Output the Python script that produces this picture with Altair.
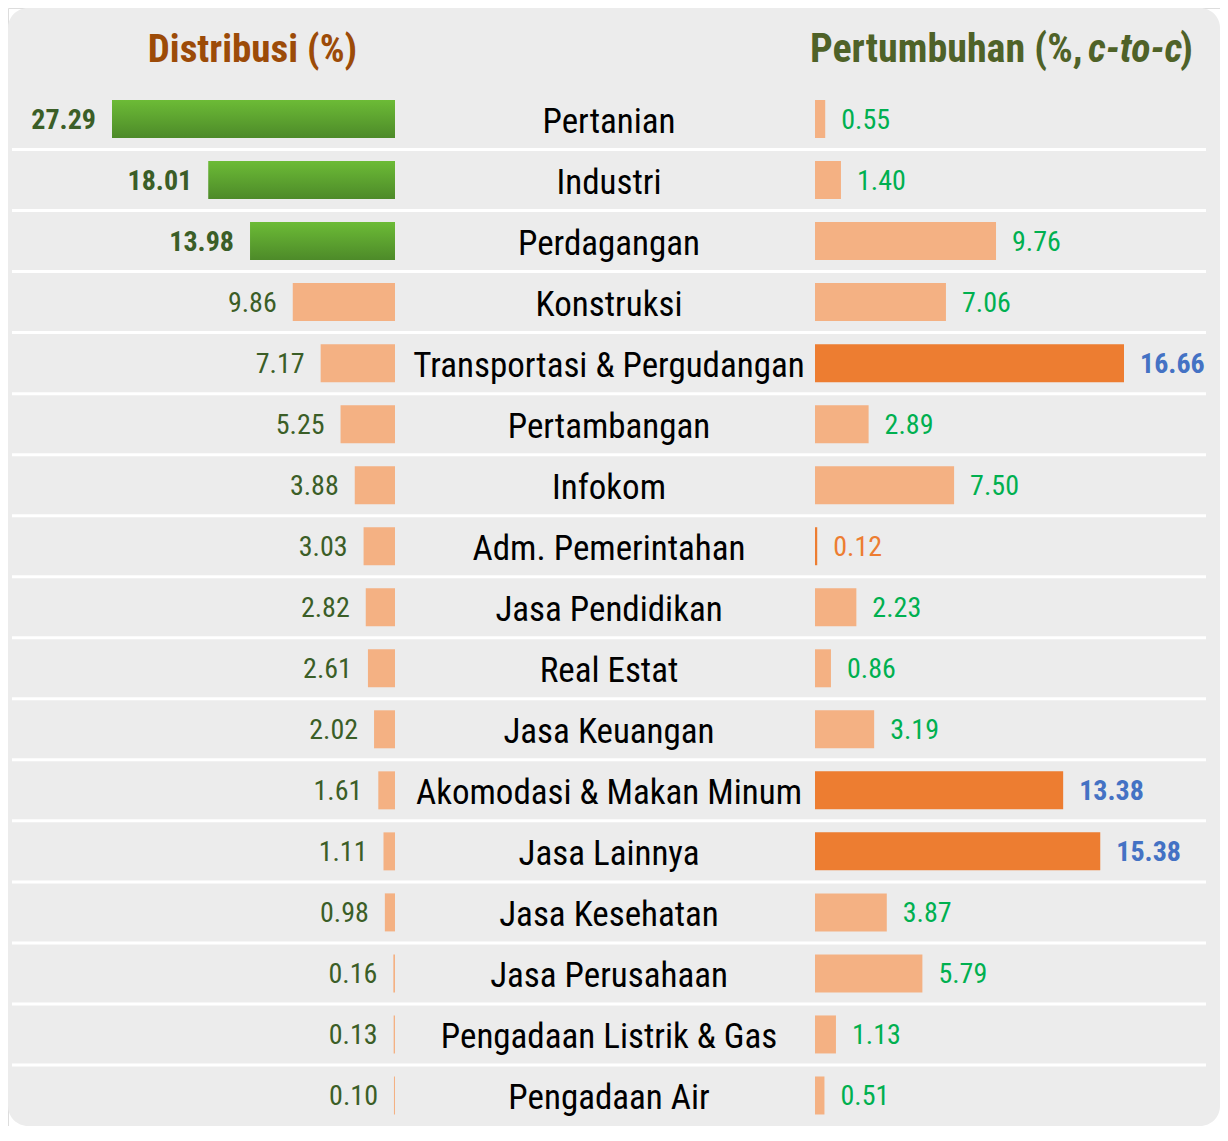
import altair as alt
import pandas as pd

sectors = ["Pertanian", "Industri", "Perdagangan", "Konstruksi",
           "Transportasi & Pergudangan", "Pertambangan", "Infokom",
           "Adm. Pemerintahan", "Jasa Pendidikan", "Real Estat",
           "Jasa Keuangan", "Akomodasi & Makan Minum", "Jasa Lainnya",
           "Jasa Kesehatan", "Jasa Perusahaan", "Pengadaan Listrik & Gas",
           "Pengadaan Air"]
distribusi = [27.29, 18.01, 13.98, 9.86, 7.17, 5.25, 3.88, 3.03, 2.82,
              2.61, 2.02, 1.61, 1.11, 0.98, 0.16, 0.13, 0.10]
pertumbuhan = [0.55, 1.40, 9.76, 7.06, 16.66, 2.89, 7.50, 0.12, 2.23,
               0.86, 3.19, 13.38, 15.38, 3.87, 5.79, 1.13, 0.51]

df = pd.DataFrame({"sektor": sectors, "dist": distribusi, "grow": pertumbuhan})
top_dist = set(df.nlargest(3, "dist")["sektor"])
top_grow = set(df.nlargest(3, "grow")["sektor"])
low_grow = set(df.nsmallest(1, "grow")["sektor"])
df["dist_top"] = df["sektor"].isin(top_dist)
df["grow_top"] = df["sektor"].isin(top_grow)
df["grow_low"] = df["sektor"].isin(low_grow)
df["last"] = df["sektor"] == sectors[-1]

W, H = 1212, 1118
FONT = "'Roboto Condensed', 'DejaVu Sans Condensed', 'Liberation Sans', sans-serif"
BG = "#ececec"
LIGHT = "#f4b183"
DARK = "#ed7d31"

yscale = alt.Scale(domain=sectors, range=[80.5, 1118], paddingInner=0, paddingOuter=0)
Y = alt.Y("sektor:N", scale=yscale, axis=None)
lscale = alt.Scale(domain=[0, max(distribusi)], range=[387, 104])
rscale = alt.Scale(domain=[0, max(pertumbuhan)], range=[807, 1116])

base = alt.Chart(df)

bg = alt.Chart(alt.Data(values=[{}])).mark_rect(color=BG, cornerRadius=20).encode(
    x=alt.value(0), x2=alt.value(W), y=alt.value(0), y2=alt.value(H))

seps = base.transform_filter("!datum.last").mark_rule(color="white", strokeWidth=3).encode(
    y=alt.Y("sektor:N", scale=yscale, axis=None, bandPosition=1),
    x=alt.value(4), x2=alt.value(1198))

green = alt.Gradient(gradient="linear",
                     stops=[alt.GradientStop(color="#6cbb36", offset=0),
                            alt.GradientStop(color="#4d8a29", offset=1)],
                     x1=0, x2=0, y1=0, y2=1)

lx = alt.X("dist:Q", scale=lscale, axis=None)
lbars_green = base.transform_filter("datum.dist_top").mark_bar(color=green, size=38).encode(
    x=lx, x2=alt.value(387), y=Y)
lbars_light = base.transform_filter("!datum.dist_top").mark_bar(color=LIGHT, size=38).encode(
    x=lx, x2=alt.value(387), y=Y)
ltext_bold = base.transform_filter("datum.dist_top").mark_text(
    align="right", baseline="middle", dx=-16, dy=2, font=FONT, fontSize=28,
    fontWeight="bold", color="#3b5e27").encode(x=lx, y=Y, text=alt.Text("dist:Q", format=".2f"))
ltext = base.transform_filter("!datum.dist_top").mark_text(
    align="right", baseline="middle", dx=-16, dy=2, font=FONT, fontSize=28,
    color="#3b5e27").encode(x=lx, y=Y, text=alt.Text("dist:Q", format=".2f"))

mid = base.mark_text(align="center", baseline="middle", font=FONT, fontSize=35,
                     color="#000000", dy=3).encode(x=alt.value(601), y=Y, text="sektor:N")

rx = alt.X("grow:Q", scale=rscale, axis=None)
rbars = base.mark_bar(size=38).encode(
    x=rx, x2=alt.value(807), y=Y,
    color=alt.condition("datum.grow_top || datum.grow_low", alt.value(DARK), alt.value(LIGHT)))
rtext_top = base.transform_filter("datum.grow_top").mark_text(
    align="left", baseline="middle", dx=16, dy=2, font=FONT, fontSize=28,
    fontWeight="bold", color="#4472c4").encode(x=rx, y=Y, text=alt.Text("grow:Q", format=".2f"))
rtext_low = base.transform_filter("datum.grow_low").mark_text(
    align="left", baseline="middle", dx=16, dy=2, font=FONT, fontSize=28,
    color=DARK).encode(x=rx, y=Y, text=alt.Text("grow:Q", format=".2f"))
rtext = base.transform_filter("!datum.grow_top && !datum.grow_low").mark_text(
    align="left", baseline="middle", dx=16, dy=2, font=FONT, fontSize=28,
    color="#00b050").encode(x=rx, y=Y, text=alt.Text("grow:Q", format=".2f"))

title_data = alt.Data(values=[{}])
t1 = alt.Chart(title_data).mark_text(text="Distribusi (%)", align="center", baseline="alphabetic",
    font=FONT, fontSize=39, fontWeight="bold", color="#9c4b08").encode(
    x=alt.value(244.5), y=alt.value(54))
t2 = alt.Chart(title_data).mark_text(text="Pertumbuhan (%,", align="left", baseline="alphabetic",
    font=FONT, fontSize=40, fontWeight="bold", color="#4f6228").encode(
    x=alt.value(802), y=alt.value(54))
t3 = alt.Chart(title_data).mark_text(text="c-to-c", align="left", baseline="alphabetic",
    font=FONT, fontSize=40, fontWeight="bold", fontStyle="italic", color="#4f6228").encode(
    x=alt.value(1080), y=alt.value(54))
t4 = alt.Chart(title_data).mark_text(text=")", align="left", baseline="alphabetic",
    font=FONT, fontSize=40, fontWeight="bold", color="#4f6228").encode(
    x=alt.value(1172), y=alt.value(54))

chart = alt.layer(
    bg, seps, lbars_green, lbars_light, ltext_bold, ltext, mid,
    rbars, rtext_top, rtext_low, rtext, t1, t2, t3, t4
).resolve_scale(x="independent").properties(
    width=W, height=H, padding=0,
    autosize=alt.AutoSizeParams(type="none")
).configure_view(stroke=None).configure(background="white")

chart.save("out.html", embed_options={"renderer": "svg", "actions": False})
